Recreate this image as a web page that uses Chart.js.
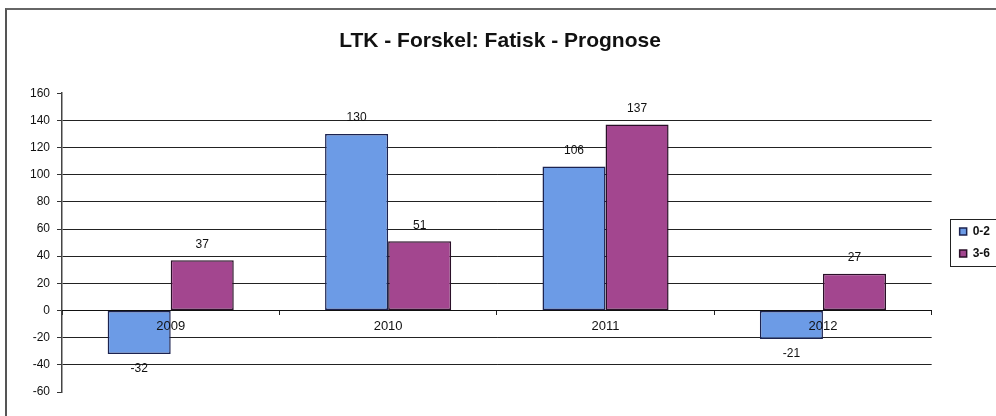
<!DOCTYPE html>
<html>
<head>
<meta charset="utf-8">
<script src="https://cdn.jsdelivr.net/npm/chart.js@4"></script>
<style>
  body { margin: 0; background: #fff; }
  #wrap { position: relative; width: 996px; height: 416px; }
  #frame { position: absolute; left: 5px; top: 8px; right: 0; bottom: 0;
           border-left: 2px solid #555; border-top: 2px solid #666; pointer-events: none; }
</style>
</head>
<body>
<div id="wrap">
  <canvas id="chart" width="996" height="416"></canvas>
  <div id="frame"></div>
</div>
<script>
const years = ['2009', '2010', '2011', '2012'];
const young = [-32, 130, 106, -21];   // 0-2
const older = [37, 51, 137, 27];      // 3-6
const yTicks = [-60, -40, -20, 0, 20, 40, 60, 80, 100, 120, 140, 160];

const font = "'Liberation Sans', Arial, sans-serif";

// value labels above / below each bar
const valueLabels = {
  id: 'valueLabels',
  afterDatasetsDraw(chart) {
    const ctx = chart.ctx;
    ctx.save();
    ctx.font = '12px ' + font;
    ctx.fillStyle = '#111';
    ctx.textAlign = 'center';
    chart.data.datasets.forEach((ds, i) => {
      chart.getDatasetMeta(i).data.forEach((bar, j) => {
        const v = ds.data[j];
        if (v >= 0) {
          ctx.textBaseline = 'bottom';
          ctx.fillText(v, bar.x, bar.y - 10);
        } else {
          ctx.textBaseline = 'top';
          ctx.fillText(v, bar.x, bar.y + 9);
        }
      });
    });
    ctx.restore();
  }
};

// border round the legend items
const legendBox = {
  id: 'legendBox',
  afterDraw(chart) {
    const l = chart.legend;
    const hb = l.legendHitBoxes;
    if (!hb || !hb.length) return;
    const top = hb[0].top - 7;
    const bottom = hb[hb.length - 1].top + hb[hb.length - 1].height + 6;
    const ctx = chart.ctx;
    ctx.save();
    ctx.strokeStyle = '#222';
    ctx.lineWidth = 1;
    ctx.strokeRect(Math.round(l.left) + 0.5, Math.round(top) + 0.5, chart.width - l.left + 5, Math.round(bottom - top));
    ctx.restore();
  }
};

new Chart(document.getElementById('chart').getContext('2d'), {
  type: 'bar',
  data: {
    labels: years,
    datasets: [{
      label: '0-2',
      data: young,
      backgroundColor: '#6c9be6',
      borderColor: '#1c2350',
      borderWidth: 1.5,
      borderSkipped: false
    }, {
      label: '3-6',
      data: older,
      backgroundColor: '#a3468f',
      borderColor: '#2a1028',
      borderWidth: 1.5,
      borderSkipped: false
    }]
  },
  options: {
    responsive: false,
    animation: false,
    layout: { padding: { left: 0, right: -4, top: 0, bottom: 24 } },
    datasets: { bar: { categoryPercentage: 0.58, barPercentage: 1 } },
    scales: {
      x: {
        position: { y: 0 },
        offset: true,
        grid: { drawOnChartArea: false, tickLength: 4, color: '#222', offset: true },
        border: { color: '#111', width: 1, z: 1 },
        ticks: { color: '#111', font: { family: font, size: 13 }, padding: 4, maxRotation: 0, z: 1 }
      },
      y: {
        min: -60,
        max: 160,
        afterBuildTicks(scale) { scale.ticks = yTicks.map(v => ({ value: v })); },
        afterFit(scale) { scale.width = 62; },
        grid: {
          color: ctx => (ctx.tick && (ctx.tick.value === 160 || ctx.tick.value === -60)) ? 'rgba(0,0,0,0)' : '#222',
          tickColor: '#333',
          tickLength: 5,
          lineWidth: 1
        },
        border: { color: '#444', width: 1.5 },
        ticks: { color: '#111', font: { family: font, size: 12 }, padding: 7 }
      },
      // empty spacer between plot and legend
      gap: {
        position: 'right',
        display: true,
        grid: { display: false },
        border: { display: false },
        ticks: { display: false },
        afterFit(scale) { scale.width = 18; }
      }
    },
    plugins: {
      title: {
        display: true,
        text: 'LTK - Forskel: Fatisk - Prognose',
        color: '#111',
        font: { family: font, size: 21, weight: 'bold' },
        padding: { top: 29, bottom: 39 }
      },
      legend: {
        position: 'right',
        fullSize: false,
        labels: {
          color: '#111',
          font: { family: font, size: 12, weight: 'bold' },
          boxWidth: 7,
          boxHeight: 7,
          padding: 10
        }
      },
      tooltip: { enabled: false }
    }
  },
  plugins: [valueLabels, legendBox]
});
</script>
</body>
</html>
